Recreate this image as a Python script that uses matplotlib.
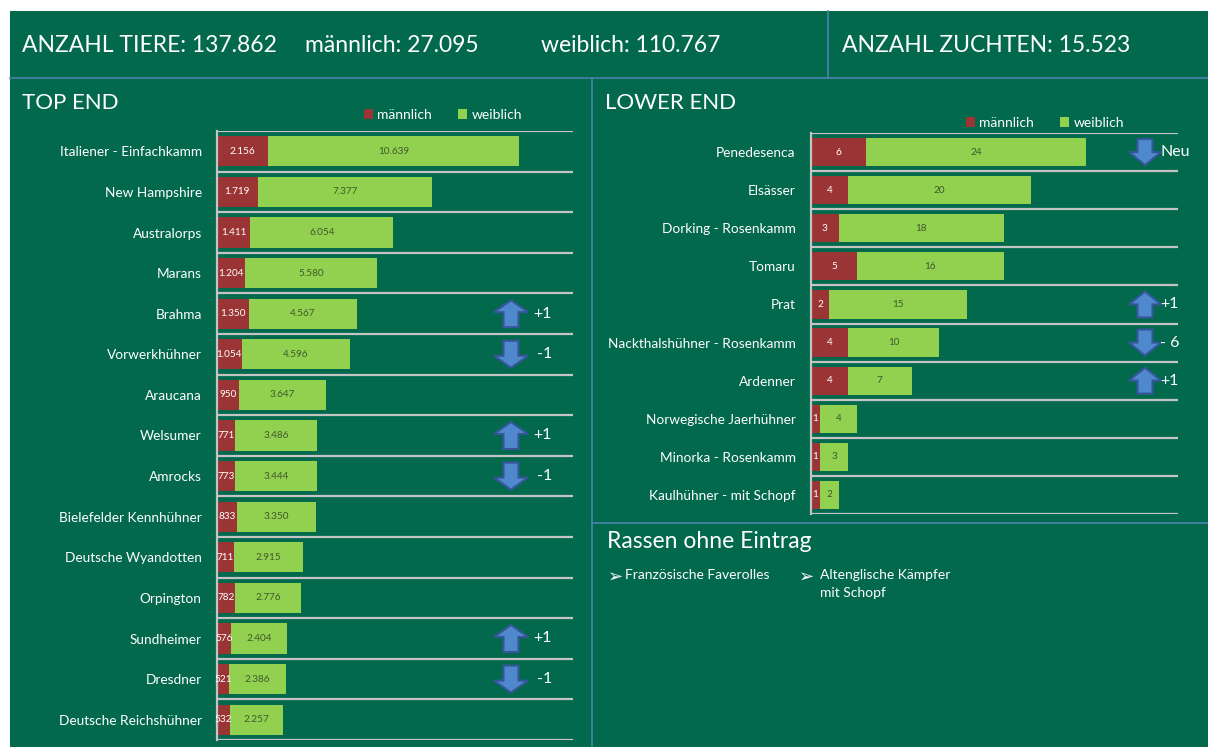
import numpy as np
import matplotlib
matplotlib.use("Agg")
import matplotlib.pyplot as plt
from matplotlib.patches import Rectangle, Polygon
from matplotlib.transforms import IdentityTransform

# ---- data ----
top_names = ["Italiener - Einfachkamm", "New Hampshire", "Australorps", "Marans",
             "Brahma", "Vorwerkhühner", "Araucana", "Welsumer", "Amrocks",
             "Bielefelder Kennhühner", "Deutsche Wyandotten", "Orpington",
             "Sundheimer", "Dresdner", "Deutsche Reichshühner"]
top_m = [2156, 1719, 1411, 1204, 1350, 1054, 950, 771, 773, 833, 711, 782, 576, 521, 532]
top_w = [10639, 7377, 6054, 5580, 4567, 4596, 3647, 3486, 3444, 3350, 2915, 2776, 2404, 2386, 2257]
top_change = ["", "", "", "", "+1", "-1", "", "+1", "-1", "", "", "", "+1", "-1", ""]
top_dir = [None, None, None, None, "up", "down", None, "up", "down", None, None, None, "up", "down", None]

low_names = ["Penedesenca", "Elsässer", "Dorking - Rosenkamm", "Tomaru", "Prat",
             "Nackthalshühner - Rosenkamm", "Ardenner", "Norwegische Jaerhühner",
             "Minorka - Rosenkamm", "Kaulhühner - mit Schopf"]
low_m = [6, 4, 3, 5, 2, 4, 4, 1, 1, 1]
low_w = [24, 20, 18, 16, 15, 10, 7, 4, 3, 2]
low_change = ["Neu", "", "", "", "+1", "- 6", "+1", "", "", ""]
low_dir = ["down", None, None, None, "up", "down", "up", None, None, None]

header = ["ANZAHL TIERE: 137.862", "männlich: 27.095", "weiblich: 110.767", "ANZAHL ZUCHTEN: 15.523"]
ohne_eintrag = ["Französische Faverolles", "Altenglische Kämpfer\nmit Schopf"]

# ---- style ----
W, H = 1208, 747
BG = "#02694d"
RED = "#9b3535"
GREEN = "#92d050"
GRID = "#c4c4c4"
LINE = "#4a82b0"
ARROW = "#4f88cc"
ARROW_EDGE = "#35579a"
plt.rcParams["font.family"] = ["Lato", "DejaVu Sans"]


def fx(x):
    return x / W


def fy(y):
    return 1 - y / H


def de(v):
    return f"{v:,}".replace(",", ".")


fig = plt.figure(figsize=(W / 100, H / 100), dpi=100, facecolor="white")
fig.patches.append(Rectangle((fx(10), 0), 1 - fx(10), fy(11), transform=fig.transFigure,
                             facecolor=BG, edgecolor="none", zorder=-10))

# panel separators
fig.add_artist(plt.Line2D([fx(10), 1], [fy(78), fy(78)], color=LINE, lw=1.2, transform=fig.transFigure))
fig.add_artist(plt.Line2D([fx(828), fx(828)], [fy(11), fy(78)], color=LINE, lw=1.2, transform=fig.transFigure))
fig.add_artist(plt.Line2D([fx(592), fx(592)], [fy(78), 0], color=LINE, lw=1.2, transform=fig.transFigure))
fig.add_artist(plt.Line2D([fx(592), 1], [fy(523), fy(523)], color=LINE, lw=1.2, transform=fig.transFigure))

# header
for txt, x in zip(header, [22, 305, 541, 842]):
    fig.text(fx(x), fy(45), txt, color="white", fontsize=16.5, va="center", ha="left")

fig.text(fx(22), fy(103), "TOP END", color="white", fontsize=16, va="center")
fig.text(fx(605), fy(103), "LOWER END", color="white", fontsize=16, va="center")


def arrow(ax, i, cx, direction, w, h, s, hh):
    cy = ax.transData.transform((0, i))[1]
    d = 1 if direction == "up" else -1
    top = cy + d * h / 2
    base = top - d * hh
    tail = cy - d * h / 2
    pts = [(cx, top), (cx + w / 2, base), (cx + s / 2, base), (cx + s / 2, tail),
           (cx - s / 2, tail), (cx - s / 2, base), (cx - w / 2, base)]
    fig.add_artist(Polygon(pts, closed=True, facecolor=ARROW, edgecolor=ARROW_EDGE, lw=1.5,
                           transform=IdentityTransform()))


def chart(left, right, top, bottom, names, m, w, xmax, lab_fs):
    ax = fig.add_axes([fx(left), fy(bottom), fx(right - left), (bottom - top) / H])
    ax.set_facecolor("none")
    y = np.arange(len(names))
    b1 = ax.barh(y, m, height=0.74, color=RED)
    b2 = ax.barh(y, w, left=m, height=0.74, color=GREEN)
    ax.set_xlim(0, xmax)
    ax.set_ylim(len(names) - 0.5, -0.5)
    for k in range(len(names) + 1):
        ax.axhline(k - 0.5, color=GRID, lw=1.6)
    for sp in ["top", "right", "bottom"]:
        ax.spines[sp].set_visible(False)
    ax.spines["left"].set_color(GRID)
    ax.spines["left"].set_linewidth(1.6)
    ax.set_xticks([])
    ax.set_yticks(y)
    ax.set_yticklabels(names, color="white", fontsize=9.8)
    ax.tick_params(axis="y", length=0, pad=11)
    for i in y:
        ax.text(m[i] / 2, i, de(m[i]), color="white", fontsize=lab_fs, ha="center", va="center")
        ax.text(m[i] + w[i] / 2, i, de(w[i]), color="#3f5a2c", fontsize=lab_fs, ha="center", va="center")
    return ax, b1, b2


ax1, r1, g1 = chart(217, 573, 131, 740, top_names, top_m, top_w, 15080, 7.2)
ax2, r2, g2 = chart(811, 1178, 133, 514, low_names, low_m, low_w, 40.0, 7.2)

fig.legend([r1, g1], ["männlich", "weiblich"], loc="center left", bbox_to_anchor=(fx(364), fy(115)),
           ncol=2, frameon=False, handlelength=0.65, handleheight=0.65, handletextpad=0.3,
           columnspacing=1.9, labelcolor="white", fontsize=10, borderaxespad=0, borderpad=0)
fig.legend([r2, g2], ["männlich", "weiblich"], loc="center left", bbox_to_anchor=(fx(966), fy(123)),
           ncol=2, frameon=False, handlelength=0.65, handleheight=0.65, handletextpad=0.3,
           columnspacing=1.9, labelcolor="white", fontsize=10, borderaxespad=0, borderpad=0)

# rank changes
for i, (c, d) in enumerate(zip(top_change, top_dir)):
    if d:
        arrow(ax1, i, 511, d, 34, 27, 15, 12)
        cy = ax1.transData.transform((0, i))[1]
        fig.text(fx(533 if c.startswith("+") else 537), cy / H, c, color="white", fontsize=11.5, va="center")
for i, (c, d) in enumerate(zip(low_change, low_dir)):
    if d:
        arrow(ax2, i, 1145, d, 32, 26, 15, 13)
        cy = ax2.transData.transform((0, i))[1]
        fig.text(fx(1160), cy / H, c, color="white", fontsize=11.5, va="center")

# Rassen ohne Eintrag
fig.text(fx(607), fy(542), "Rassen ohne Eintrag", color="white", fontsize=16.5, va="center")
for x_b, x_t, txt in zip([608, 799], [625, 820], ohne_eintrag):
    fig.text(fx(x_b), fy(577), "\u27a2", color="white", fontsize=13, va="center", family=["DejaVu Sans"])
    fig.text(fx(x_t), fy(569), txt, color="white", fontsize=10, va="top", linespacing=1.6)

fig.savefig("out.png", dpi=100, facecolor=fig.get_facecolor())
